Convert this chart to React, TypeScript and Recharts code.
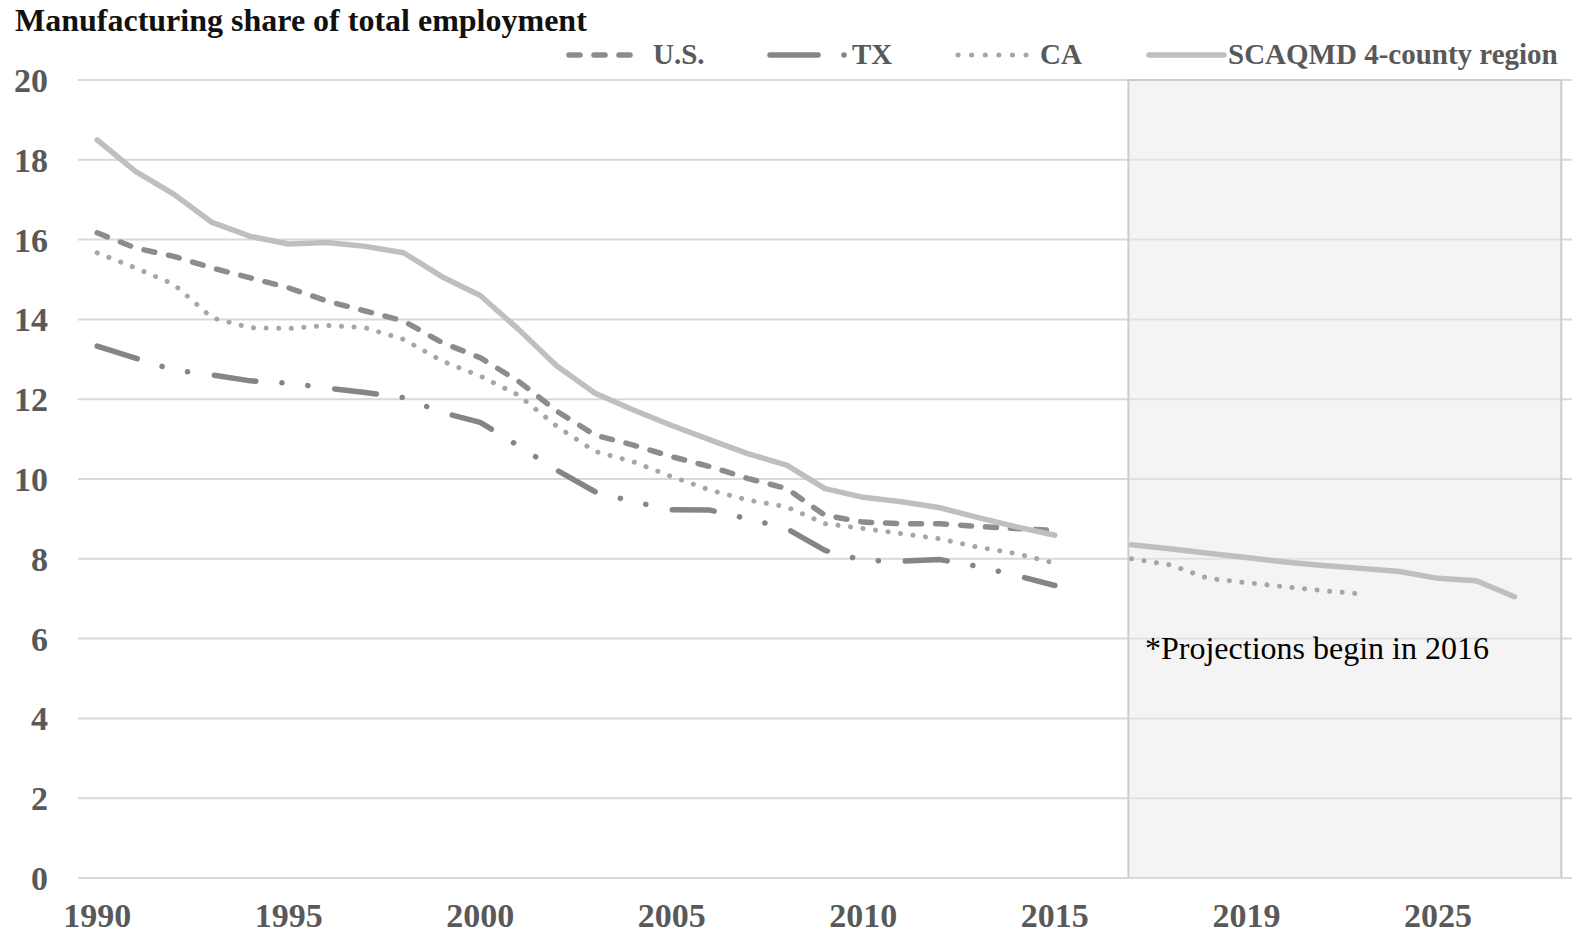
import { LineChart, Line, XAxis, YAxis, CartesianGrid, ReferenceArea } from 'recharts';

// 1990..2015 history (index 0..25), projections from index 27
const US = [16.17, 15.79, 15.58, 15.29, 15.04, 14.79, 14.46, 14.21, 13.96, 13.42, 13.04, 12.45, 11.7, 11.1, 10.85, 10.56, 10.31, 10.01, 9.76, 9.09, 8.92, 8.88, 8.88, 8.81, 8.76, 8.71];
const TX = [13.33, 13.03, 12.73, 12.61, 12.46, 12.4, 12.28, 12.17, 12.04, 11.67, 11.42, 10.83, 10.22, 9.68, 9.43, 9.23, 9.22, 9.0, 8.76, 8.21, 7.96, 7.94, 7.98, 7.81, 7.58, 7.33];
const CA = [15.67, 15.29, 14.88, 14.04, 13.79, 13.77, 13.85, 13.79, 13.5, 12.96, 12.58, 12.1, 11.32, 10.69, 10.43, 10.06, 9.72, 9.47, 9.3, 8.88, 8.76, 8.63, 8.5, 8.29, 8.13, 7.89];
const SCAQMD = [18.5, 17.71, 17.14, 16.43, 16.08, 15.89, 15.93, 15.83, 15.67, 15.07, 14.6, 13.75, 12.83, 12.15, 11.73, 11.34, 10.98, 10.63, 10.35, 9.76, 9.54, 9.43, 9.28, 9.03, 8.8, 8.59];
const PROJ_START = 27;
const SCAQMD_PROJ = [8.35, 8.25, 8.14, 8.03, 7.92, 7.83, 7.76, 7.68, 7.51, 7.45, 7.05];
const CA_PROJ = [8.0, 7.85, 7.51, 7.4, 7.3, 7.2, 7.12];
const N_CATS = 39;

const TICK_POS = [0, 5, 10, 15, 20, 25, 30, 35];
const TICK_LABELS = ['1990', '1995', '2000', '2005', '2010', '2015', '2019', '2025'];
const Y_TICKS = [0, 2, 4, 6, 8, 10, 12, 14, 16, 18, 20];

const pick = (hist: number[], proj: number[] | null, i: number) => {
  if (i < hist.length) return hist[i];
  if (proj && i >= PROJ_START && i < PROJ_START + proj.length) return proj[i - PROJ_START];
  return null;
};

const data = Array.from({ length: N_CATS }, (_, i) => ({
  i,
  us: pick(US, null, i),
  tx: pick(TX, null, i),
  ca: pick(CA, CA_PROJ, i),
  scaqmd: pick(SCAQMD, SCAQMD_PROJ, i),
}));

const FONT = '"Liberation Serif", "Times New Roman", serif';
const LABEL_GRAY = '#595959';

const SERIES = [
  { key: 'us', name: 'U.S.', color: '#8c8c8c', width: 5.5, dash: '11 14' },
  { key: 'tx', name: 'TX', color: '#858585', width: 5.5, dash: '42 26 0.1 26 0.1 27' },
  { key: 'ca', name: 'CA', color: '#a6a6a6', width: 5, dash: '0.1 12.5' },
  { key: 'scaqmd', name: 'SCAQMD 4-county region', color: '#bfbfbf', width: 5.5, dash: undefined },
];

const tickStyle = { fontFamily: FONT, fontWeight: 700, fontSize: 34, fill: LABEL_GRAY };

export default function App() {
  return (
    <div style={{ position: 'absolute', left: 0, top: 0, width: 1572, height: 935, background: '#fff' }}>
      <LineChart width={1572} height={935} data={data} margin={{ top: 80, right: 0, bottom: 0, left: 0 }}>
        <CartesianGrid vertical={false} stroke="#d9d9d9" strokeWidth={2} />
        <ReferenceArea
          x1={26.92}
          x2={38.22}
          y1={0}
          y2={20}
          fill="#e9e9e9"
          fillOpacity={0.5}
          stroke="#cccccc"
          strokeWidth={2}
        />
        <XAxis
          dataKey="i"
          type="number"
          domain={[-0.5, 38.5]}
          ticks={TICK_POS}
          tickFormatter={(v: number) => TICK_LABELS[TICK_POS.indexOf(v)] ?? ''}
          interval={0}
          height={57}
          tickSize={0}
          tickMargin={25}
          axisLine={{ stroke: '#d9d9d9', strokeWidth: 2 }}
          tick={tickStyle}
        />
        <YAxis
          type="number"
          domain={[0, 20]}
          ticks={Y_TICKS}
          interval={0}
          width={78}
          tickSize={0}
          tickMargin={30}
          axisLine={false}
          tick={tickStyle}
        />
        {SERIES.map(s => (
          <Line
            key={s.key}
            type="linear"
            dataKey={s.key}
            name={s.name}
            stroke={s.color}
            strokeWidth={s.width}
            strokeDasharray={s.dash}
            strokeLinecap="round"
            strokeLinejoin="round"
            dot={false}
            activeDot={false}
            connectNulls={false}
            isAnimationActive={false}
          />
        ))}
      </LineChart>

      <svg
        width={1572}
        height={935}
        style={{ position: 'absolute', left: 0, top: 0, pointerEvents: 'none' }}
      >
        <text x={15} y={31} fontFamily={FONT} fontWeight={700} fontSize={32} fill="#111">
          Manufacturing share of total employment
        </text>

        <line x1={569} x2={638} y1={55} y2={55} stroke={SERIES[0].color} strokeWidth={5.5} strokeLinecap="round" strokeDasharray="11 14" />
        <text x={653} y={64} fontFamily={FONT} fontWeight={700} fontSize={29} fill={LABEL_GRAY}>U.S.</text>

        <line x1={770} x2={845} y1={55} y2={55} stroke={SERIES[1].color} strokeWidth={5.5} strokeLinecap="round" strokeDasharray="48 26 0.1 200" />
        <text x={852} y={64} fontFamily={FONT} fontWeight={700} fontSize={29} fill={LABEL_GRAY}>TX</text>

        <line x1={958} x2={1028} y1={55} y2={55} stroke={SERIES[2].color} strokeWidth={5} strokeLinecap="round" strokeDasharray="0.1 13.5" />
        <text x={1040} y={64} fontFamily={FONT} fontWeight={700} fontSize={29} fill={LABEL_GRAY}>CA</text>

        <line x1={1149} x2={1224} y1={55} y2={55} stroke={SERIES[3].color} strokeWidth={5.5} strokeLinecap="round" />
        <text x={1228} y={64} fontFamily={FONT} fontWeight={700} fontSize={29} fill={LABEL_GRAY}>SCAQMD 4-county region</text>

        <text x={1145} y={659} fontFamily={FONT} fontSize={32} fill="#000">*Projections begin in 2016</text>
      </svg>
    </div>
  );
}
